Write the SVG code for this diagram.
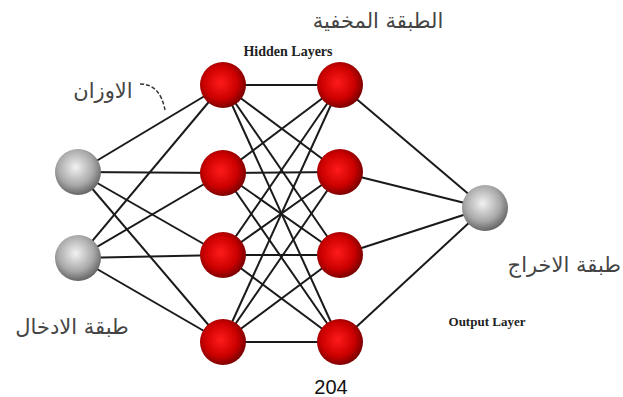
<svg xmlns="http://www.w3.org/2000/svg" width="623" height="397" viewBox="0 0 623 397">
<defs>
<radialGradient id="red" cx="0.45" cy="0.45" r="0.6"><stop offset="0" stop-color="#ff1a1a"/><stop offset="0.6" stop-color="#cc0000"/><stop offset="1" stop-color="#6a0000"/></radialGradient>
<radialGradient id="gray" cx="0.45" cy="0.4" r="0.65"><stop offset="0" stop-color="#f2f2f2"/><stop offset="0.6" stop-color="#a8a8a8"/><stop offset="1" stop-color="#555"/></radialGradient>
</defs>
<style>
.c line{stroke:#1a1a1a;stroke-width:2}
.ar{font-family:"DejaVu Sans","Noto Sans",sans-serif;fill:#444;font-size:21px}
.en{font-family:"Liberation Serif",serif;font-weight:bold;fill:#222}
</style>
<rect width="623" height="397" fill="#fff"/>
<g id="connectors" class="c">
<line x1="78" y1="172" x2="223" y2="85"/><line x1="78" y1="172" x2="223" y2="173"/><line x1="78" y1="172" x2="223" y2="255"/><line x1="78" y1="172" x2="223" y2="342"/>
<line x1="78" y1="258" x2="223" y2="85"/><line x1="78" y1="258" x2="223" y2="173"/><line x1="78" y1="258" x2="223" y2="255"/><line x1="78" y1="258" x2="223" y2="342"/>
<line x1="223" y1="85" x2="340" y2="85"/><line x1="223" y1="85" x2="340" y2="172"/><line x1="223" y1="85" x2="340" y2="255"/><line x1="223" y1="85" x2="340" y2="342"/>
<line x1="223" y1="173" x2="340" y2="85"/><line x1="223" y1="173" x2="340" y2="172"/><line x1="223" y1="173" x2="340" y2="255"/><line x1="223" y1="173" x2="340" y2="342"/>
<line x1="223" y1="255" x2="340" y2="85"/><line x1="223" y1="255" x2="340" y2="172"/><line x1="223" y1="255" x2="340" y2="255"/><line x1="223" y1="255" x2="340" y2="342"/>
<line x1="223" y1="342" x2="340" y2="85"/><line x1="223" y1="342" x2="340" y2="172"/><line x1="223" y1="342" x2="340" y2="255"/><line x1="223" y1="342" x2="340" y2="342"/>
<line x1="340" y1="85" x2="485" y2="208"/><line x1="340" y1="172" x2="485" y2="208"/><line x1="340" y1="255" x2="485" y2="208"/><line x1="340" y1="342" x2="485" y2="208"/>
<path d="M140 84 Q160 84 165 110" fill="none" stroke="#333" stroke-width="1.5" stroke-dasharray="4 2"/>
</g>
<g id="in1"><circle cx="78" cy="172" r="23" fill="url(#gray)"/></g>
<g id="in2"><circle cx="78" cy="258" r="23" fill="url(#gray)"/></g>
<g id="h1a"><circle cx="223" cy="85" r="23" fill="url(#red)"/></g>
<g id="h1b"><circle cx="223" cy="173" r="23" fill="url(#red)"/></g>
<g id="h1c"><circle cx="223" cy="255" r="23" fill="url(#red)"/></g>
<g id="h1d"><circle cx="223" cy="342" r="23" fill="url(#red)"/></g>
<g id="h2a"><circle cx="340" cy="85" r="23" fill="url(#red)"/></g>
<g id="h2b"><circle cx="340" cy="172" r="23" fill="url(#red)"/></g>
<g id="h2c"><circle cx="340" cy="255" r="23" fill="url(#red)"/></g>
<g id="h2d"><circle cx="340" cy="342" r="23" fill="url(#red)"/></g>
<g id="out"><circle cx="485" cy="208" r="23" fill="url(#gray)"/></g>
<g id="labels">
<text class="ar" x="378" y="28" text-anchor="middle">الطبقة المخفية</text>
<text class="en" x="288" y="56" text-anchor="middle" font-size="14">Hidden Layers</text>
<text class="ar" x="103" y="98" text-anchor="middle">الاوزان</text>
<text class="ar" x="72" y="334" text-anchor="middle">طبقة الادخال</text>
<text class="ar" x="621" y="272" text-anchor="end">طبقة الاخراج</text>
<text class="en" x="487" y="326" text-anchor="middle" font-size="13">Output Layer</text>
<text x="331" y="394" text-anchor="middle" font-family="Liberation Sans,sans-serif" font-size="20" fill="#111">204</text>
</g>
</svg>
